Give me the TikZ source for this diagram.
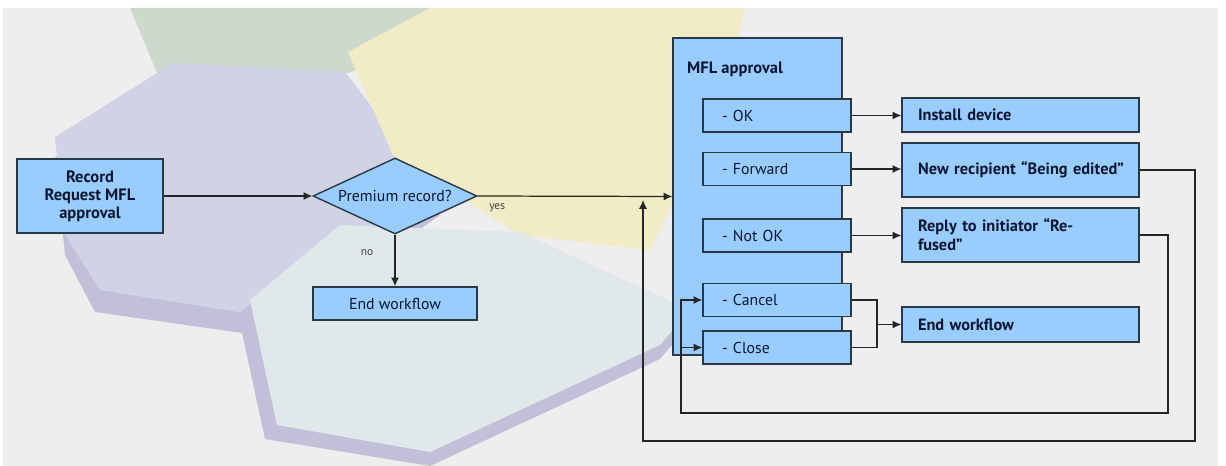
\documentclass[tikz,border=0pt]{standalone}
\usepackage{fontspec}
\setmainfont{PT Sans}
\usetikzlibrary{arrows.meta, positioning, shapes.geometric}
\definecolor{BoxBlue}{HTML}{99CCFF}
\definecolor{BoxLine}{HTML}{2B3845}
\definecolor{InkNavy}{HTML}{0B1730}
\definecolor{BgGray}{HTML}{EEEEEE}
\definecolor{HexGreen}{HTML}{CDD9CD}
\definecolor{HexBlue}{HTML}{D0D3E5}
\definecolor{HexSide}{HTML}{C2BFD9}
\definecolor{HexYellow}{HTML}{F1EBC6}
\definecolor{HexCyan}{HTML}{E1E8EA}

\begin{document}
\begin{tikzpicture}[x=0.02cm, y=-0.02cm, >={Latex[length=5pt,width=4.6pt]},
  box/.style={draw=BoxLine, line width=0.8pt, fill=BoxBlue, text=InkNavy,
    font=\fontsize{9}{10.2}\selectfont},
  sub/.style={box, minimum width=2.96cm, minimum height=0.66cm,
    text width=2.2cm, inner xsep=0.38cm, align=left},
  res/.style={box, font=\fontsize{9.3}{10.8}\selectfont\bfseries,
    minimum width=4.74cm, text width=4.1cm, inner xsep=0.32cm, align=left},
  line/.style={line width=0.7pt, draw=black!85},
  flow/.style={line, ->},
  lbl/.style={font=\fontsize{6.5}{7}\selectfont, text=black!75, inner sep=1pt}]
  \useasboundingbox (0,0) rectangle (1226,466);
  % backdrop: faded hexagon photo
  \fill[white] (0,0) rectangle (1226,466);
  \fill[BgGray] (3,8) rectangle (1218,466);
  \begin{scope}
    \clip (3,8) rectangle (1218,466);
    \fill[HexGreen] (130,8) -- (430,8) -- (440,40) -- (300,90) -- (160,80) -- cycle;
    \fill[HexSide] (55,157) -- (173,83) -- (345,92) -- (440,215) -- (270,337) -- (95,312) -- (65,255) -- cycle;
    \fill[HexBlue] (55,137) -- (173,63) -- (345,72) -- (440,195) -- (270,317) -- (100,290) -- (65,235) -- cycle;
    \fill[HexYellow] (348,52) -- (430,8) -- (745,8) -- (720,110) -- (650,250) -- (520,235) -- (393,155) -- cycle;
    \fill[HexSide] (238,314) -- (330,239) -- (520,246) -- (690,324) -- (660,359) -- (430,466) -- (265,439) -- cycle;
    \fill[HexCyan] (250,300) -- (340,225) -- (520,232) -- (690,310) -- (660,345) -- (430,452) -- (277,425) -- cycle;
  \end{scope}

  % left part
  \node[box, font=\fontsize{9.4}{10.2}\selectfont\bfseries, align=center,
    minimum width=2.92cm, minimum height=1.48cm] (rec) at (90,196) {Record\\Request MFL\\approval};
  \node[box, diamond, aspect=2.2, inner sep=1pt, minimum width=3.28cm,
    minimum height=1.52cm] (prem) at (395,196) {Premium record?};
  \node[box, minimum width=3.28cm, minimum height=0.66cm] (endl) at (395,303.5) {End workflow};

  % approval block
  \node[box, minimum width=3.38cm, minimum height=6.34cm] (mfl) at (757.5,196.5) {};
  \node[anchor=west, text=InkNavy, font=\fontsize{9.4}{10.2}\selectfont\bfseries] (mfltitle) at (681,69) {MFL approval};
  \node[sub] (ok) at (777,115.5) {- OK};
  \node[sub] (fwd) at (777,169) {- Forward};
  \node[sub] (nok) at (777,235.5) {- Not OK};
  \node[sub] (cancel) at (777,300) {- Cancel};
  \node[sub] (close) at (777,347.5) {- Close};

  % results
  \node[res, minimum height=0.68cm] (inst) at (1020.5,115) {Install device};
  \node[res, minimum height=1.08cm] (newr) at (1020.5,170) {\mbox{New recipient “Being edited”}};
  \node[res, minimum height=1.08cm] (reply) at (1020.5,235) {Reply to initiator “Re-\\fused”};
  \node[res, minimum height=0.7cm] (endr) at (1020.5,324.5) {End workflow};

  % connectors
  \draw[flow] (rec) -- (prem);
  \draw[flow] (prem.east) -- node[lbl, pos=0.1, below=3pt] (yes) {yes} (mfl.west);
  \draw[flow] (prem.south) -- node[lbl, pos=0.34, left=11pt] (no) {no} (endl.north);
  \draw[flow] (ok.east) -- (ok.east -| inst.west);
  \draw[flow] (fwd.east) -- (fwd.east -| newr.west);
  \draw[flow] (nok.east) -- (nok.east -| reply.west);
  \coordinate (join) at (877,324.5);
  \draw[line] (cancel.east) -| (join);
  \draw[line] (close.east) -| (join);
  \draw[flow] (join) -- (endr.west);
  % loops back
  \coordinate (backA) at (1195,441);
  \coordinate (backB) at (643,441);
  \draw[flow] (newr.east) -| (backA) -- (backB) -- ([yshift=-2pt]backB |- mfl.west);
  \coordinate (loopA) at (1168,413);
  \coordinate (loopB) at (681,413);
  \draw[flow] (reply.east) -| (loopA) -- (loopB) |- (cancel.west);
  \draw[flow] (loopB |- close.west) -- (close.west);
\end{tikzpicture}
\end{document}
